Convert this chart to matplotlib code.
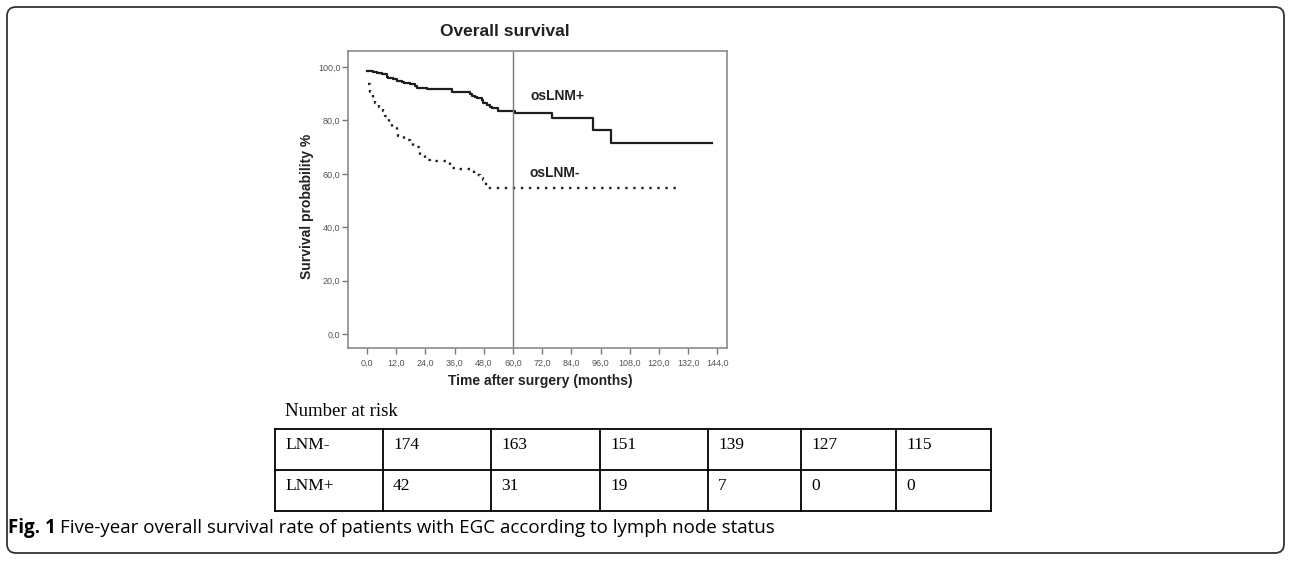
import numpy as np
import matplotlib
matplotlib.use('Agg')
import matplotlib.pyplot as plt
from matplotlib.patches import FancyBboxPatch

plt.rcParams['font.family'] = ['Liberation Sans', 'DejaVu Sans']

# Kaplan-Meier steps (months, survival %)
pos_months = [0, 2.3, 4.0, 6.0, 8.1, 8.8, 10.8, 12.2, 14.3, 15.2, 17.7, 19.7, 20.4, 24.5,
              34.8, 42.3, 43.0, 44.4, 45.1, 47.1, 47.8, 49.2, 50.6, 51.2, 54.0, 60.8,
              75.9, 93.0, 100.3, 142.0]
pos_surv = [98.6, 98.3, 97.9, 97.3, 96.4, 95.8, 95.4, 94.9, 94.5, 93.9, 93.5, 92.9, 92.3, 91.6,
            90.8, 89.9, 89.3, 88.9, 88.3, 87.6, 86.4, 85.8, 85.1, 84.5, 83.5, 82.6,
            80.9, 76.4, 71.4, 71.4]

neg_months = [0.5, 1.2, 2.3, 3.3, 5.1, 6.7, 7.4, 9.2, 10.2, 12.2, 12.9, 15.2, 17.7, 19.0,
              21.8, 22.0, 23.8, 26.0, 34.1, 36.0, 44.0, 46.4, 47.5, 49.1, 129.2]
neg_surv = [93.5, 90.8, 88.3, 86.4, 85.1, 83.5, 81.6, 79.5, 77.6, 76.0, 74.3, 72.7, 71.4, 70.2,
            69.6, 67.0, 65.2, 64.8, 62.3, 61.8, 59.6, 58.3, 57.7, 54.6, 54.6]

x_ticks = np.arange(0, 145, 12)
y_ticks = np.arange(0, 101, 20)

risk_groups = ['LNM-', 'LNM+']
risk_counts = [[174, 163, 151, 139, 127, 115],
               [42, 31, 19, 7, 0, 0]]

W, H = 1292, 563
fig = plt.figure(figsize=(W / 100, H / 100), dpi=100)

# pixel canvas for frame, titles, table and caption
canvas = fig.add_axes([0, 0, 1, 1])
canvas.set_xlim(0, W)
canvas.set_ylim(H, 0)
canvas.axis('off')

canvas.add_patch(FancyBboxPatch((7, 7), 1277, 546, boxstyle='round,pad=0,rounding_size=9',
                                fill=False, ec='#333333', lw=1.3))

# survival plot
ax = fig.add_axes([348 / W, 1 - 348 / H, 379 / W, 297 / H])
ax.step(pos_months, pos_surv, where='post', color='#1e1e1e', lw=1.6)
ax.step(neg_months, neg_surv, where='post', color='#1e1e1e', lw=1.7,
        linestyle=(0, (1, 2.4)))
ax.axvline(60, color='#777777', lw=1)
ax.set_xlim(-7.8, 148)
ax.set_ylim(-5.2, 106)
ax.set_xticks(x_ticks)
ax.set_xticklabels([f'{v:.1f}'.replace('.', ',') for v in x_ticks])
ax.set_yticks(y_ticks)
ax.set_yticklabels([f'{v:.1f}'.replace('.', ',') for v in y_ticks])
ax.tick_params(direction='out', length=4, width=1, color='#777777',
               labelsize=6.5, labelcolor='#555555')
ax.tick_params(axis='x', pad=4)
ax.tick_params(axis='y', pad=1.5)
for s in ax.spines.values():
    s.set_color('#8a8a8a')
    s.set_linewidth(1.2)

ax.text(67.2, 89.1, 'osLNM+', fontsize=10, fontweight='bold', va='center', color='#222222')
ax.text(67.0, 60.4, 'osLNM-', fontsize=10, fontweight='bold', va='center', color='#222222')

canvas.text(505, 32, 'Overall survival', ha='center', va='center', fontsize=12.5,
            fontweight='bold', color='#222222')
canvas.text(540, 381, 'Time after surgery (months)', ha='center', va='center', fontsize=10,
            fontweight='bold', color='#222222')
canvas.text(307, 206, 'Survival probability %', ha='center', va='center', fontsize=10,
            fontweight='bold', color='#222222', rotation=90)

# number at risk table
canvas.text(285, 411, 'Number at risk', ha='left', va='center', fontsize=13.5,
            family='Liberation Serif')
col_edges = [275, 383, 491, 600, 708, 801, 896, 991]
row_edges = [429, 470, 511]
for y in row_edges:
    canvas.plot([col_edges[0], col_edges[-1]], [y, y], color='black', lw=1.3)
for x in col_edges:
    canvas.plot([x, x], [row_edges[0], row_edges[-1]], color='black', lw=1.3)
for r, group in enumerate(risk_groups):
    cells = [group] + [str(c) for c in risk_counts[r]]
    for c, txt in enumerate(cells):
        canvas.text(col_edges[c] + 10, row_edges[r] + 16, txt, ha='left', va='center',
                    fontsize=12.5, family='Liberation Serif')

# caption
t1 = canvas.text(8, 528, 'Fig. 1', ha='left', va='center', fontsize=13.5,
                 fontweight='bold', family='Open Sans')
canvas.annotate('Five-year overall survival rate of patients with EGC according to lymph node status',
                xy=(1, 0.5), xycoords=t1, xytext=(3, 0), textcoords='offset points',
                ha='left', va='center', fontsize=13.5, family='Open Sans')

fig.savefig('out.png', dpi=100)
